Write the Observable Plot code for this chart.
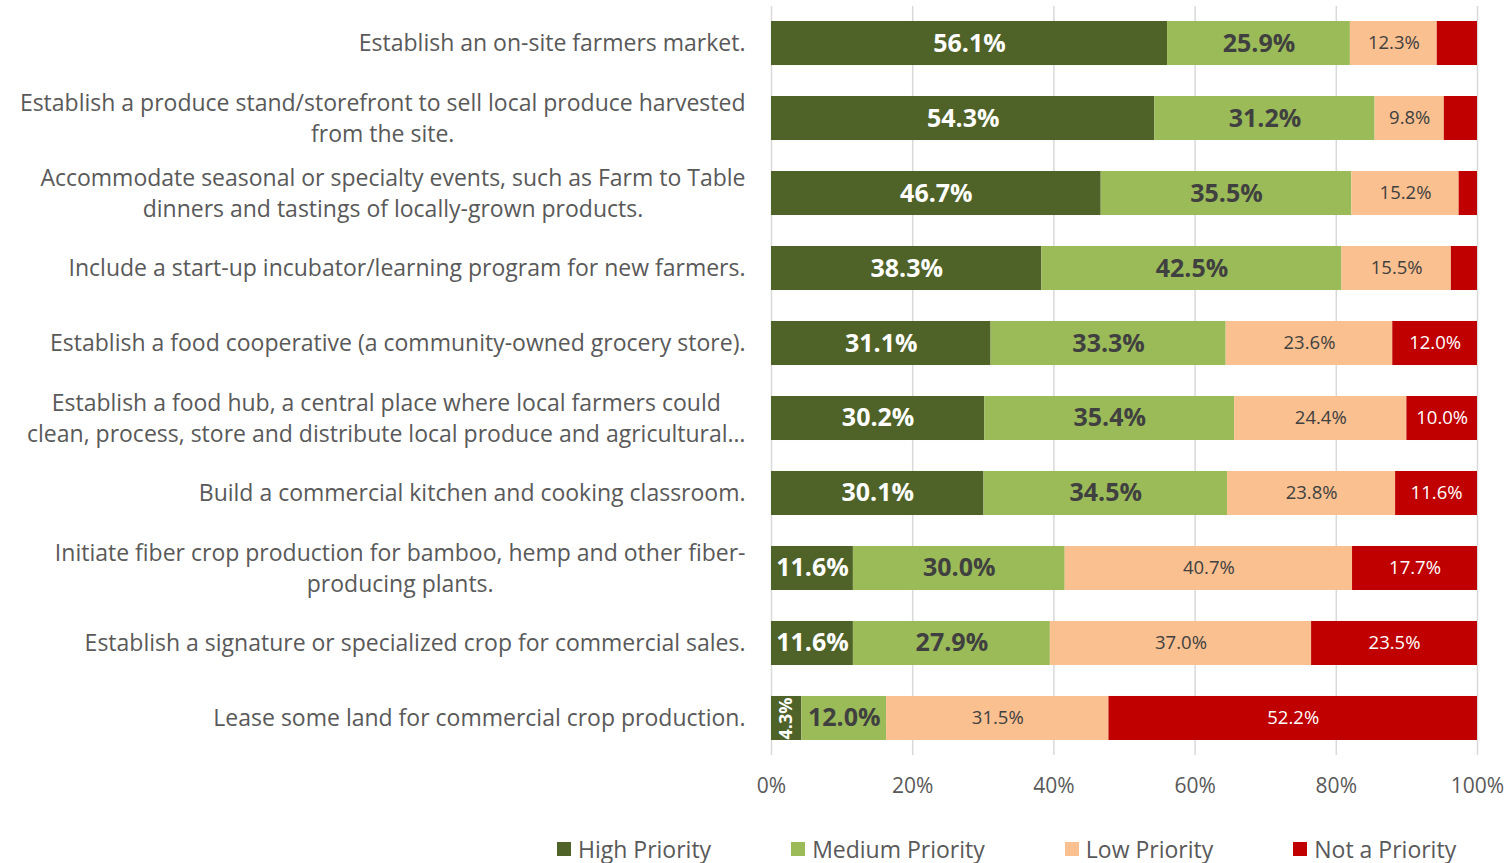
<!DOCTYPE html>
<html><head><meta charset="utf-8">
<script src="https://cdn.jsdelivr.net/npm/d3@7"></script>
<script src="https://cdn.jsdelivr.net/npm/@observablehq/plot@0.6"></script>
<style>
body{margin:0;background:#fff;font-family:"Open Sans",sans-serif;overflow:hidden;}
#legend{display:flex;align-items:center;padding-left:557px;padding-top:18px;height:32px;gap:80px;font-size:23px;line-height:1;color:#595959;}
.item{display:flex;align-items:center;gap:7px}
.sw{width:14px;height:14px;display:inline-block}
</style></head><body><div id="chart"></div><div id="legend"></div>
<script>
const categories = [
  "Establish an on-site farmers market.",
  "Establish a produce stand/storefront to sell local produce harvested\nfrom the site.",
  "Accommodate seasonal or specialty events, such as Farm to Table\ndinners and tastings of locally-grown products.",
  "Include a start-up incubator/learning program for new farmers.",
  "Establish a food cooperative (a community-owned grocery store).",
  "Establish a food hub, a central place where local farmers could\nclean, process, store and distribute local produce and agricultural…",
  "Build a commercial kitchen and cooking classroom.",
  "Initiate fiber crop production for bamboo, hemp and other fiber-\nproducing plants.",
  "Establish a signature or specialized crop for commercial sales.",
  "Lease some land for commercial crop production."
];
const seriesNames = ["High Priority","Medium Priority","Low Priority","Not a Priority"];
const high = [56.1,54.3,46.7,38.3,31.1,30.2,30.1,11.6,11.6,4.3];
const medium = [25.9,31.2,35.5,42.5,33.3,35.4,34.5,30.0,27.9,12.0];
const low = [12.3,9.8,15.2,15.5,23.6,24.4,23.8,40.7,37.0,31.5];
const notPriority = [5.7,4.7,2.6,3.7,12.0,10.0,11.6,17.7,23.5,52.2];
const colors = ["#4f6228","#9bbb59","#fac090","#c00000"];
const xTicks = [0,20,40,60,80,100];

const seriesValues = [high, medium, low, notPriority];
const rows = [];
categories.forEach((c, i) => {
  seriesNames.forEach((s, j) => rows.push({category: c, series: s, value: seriesValues[j][i]}));
});
const fmt = v => d3.format(".1f")(v) + "%";

const font = '"Open Sans", sans-serif';
const labelFont = 23;
const canvas = document.createElement("canvas");
const ctx = canvas.getContext("2d");
ctx.font = `${labelFont}px "Open Sans"`;
const labelMarks = categories.map(c => {
  const w = d3.max(c.split("\n"), l => ctx.measureText(l).width);
  return Plot.text([c], {
    y: d => d, text: d => d, frameAnchor: "left", textAnchor: "middle",
    dx: -(26 + w / 2), dy: -2, fontSize: labelFont, lineHeight: 1.35, fill: "#595959"
  });
});

const stackOpts = (textFn) => Plot.stackX({x: "value", y: "category", z: "series", text: textFn});

const chart = Plot.plot({
  width: 1510,
  height: 815,
  marginLeft: 771,
  marginRight: 33,
  marginTop: 6,
  marginBottom: 60,
  style: {fontFamily: font, background: "#fff"},
  x: {domain: [0, 100], ticks: xTicks, tickFormat: d => d + "%", label: null},
  y: {domain: categories, paddingInner: 0.413, paddingOuter: 0.2, round: false, axis: null},
  color: {domain: seriesNames, range: colors},
  marks: [
    Plot.gridX(xTicks, {stroke: "#d9d9d9", strokeOpacity: 1, strokeWidth: 1.5}),
    Plot.barX(rows, Plot.stackX({x: "value", y: "category", z: "series", fill: "series", order: null})),
    Plot.text(rows, {...stackOpts(d => d.series === "High Priority" && d.value >= 5 ? fmt(d.value) : null), fill: "white", fontWeight: "bold", fontSize: 25}),
    Plot.text(rows, {...stackOpts(d => d.series === "High Priority" && d.value < 5 ? fmt(d.value) : null), fill: "white", fontWeight: "bold", fontSize: 18, rotate: -90}),
    Plot.text(rows, {...stackOpts(d => d.series === "Medium Priority" ? fmt(d.value) : null), fill: "#404040", fontWeight: "bold", fontSize: 25}),
    Plot.text(rows, {...stackOpts(d => d.series === "Low Priority" ? fmt(d.value) : null), fill: "#404040", fontSize: 18.5}),
    Plot.text(rows, {...stackOpts(d => d.series === "Not a Priority" && d.value >= 8 ? fmt(d.value) : null), fill: "white", fontSize: 18.5}),
    Plot.axisX(xTicks, {tickSize: 0, tickPadding: 23, fontSize: 21, fill: "#595959", tickFormat: d => d + "%", label: null}),
    ...labelMarks
  ]
});
document.getElementById("chart").appendChild(chart);

const legend = d3.select("#legend");
seriesNames.forEach((s, i) => {
  const it = legend.append("div").attr("class", "item");
  it.append("span").attr("class", "sw").style("background", colors[i]);
  it.append("span").text(s);
});
</script>
</body></html>
